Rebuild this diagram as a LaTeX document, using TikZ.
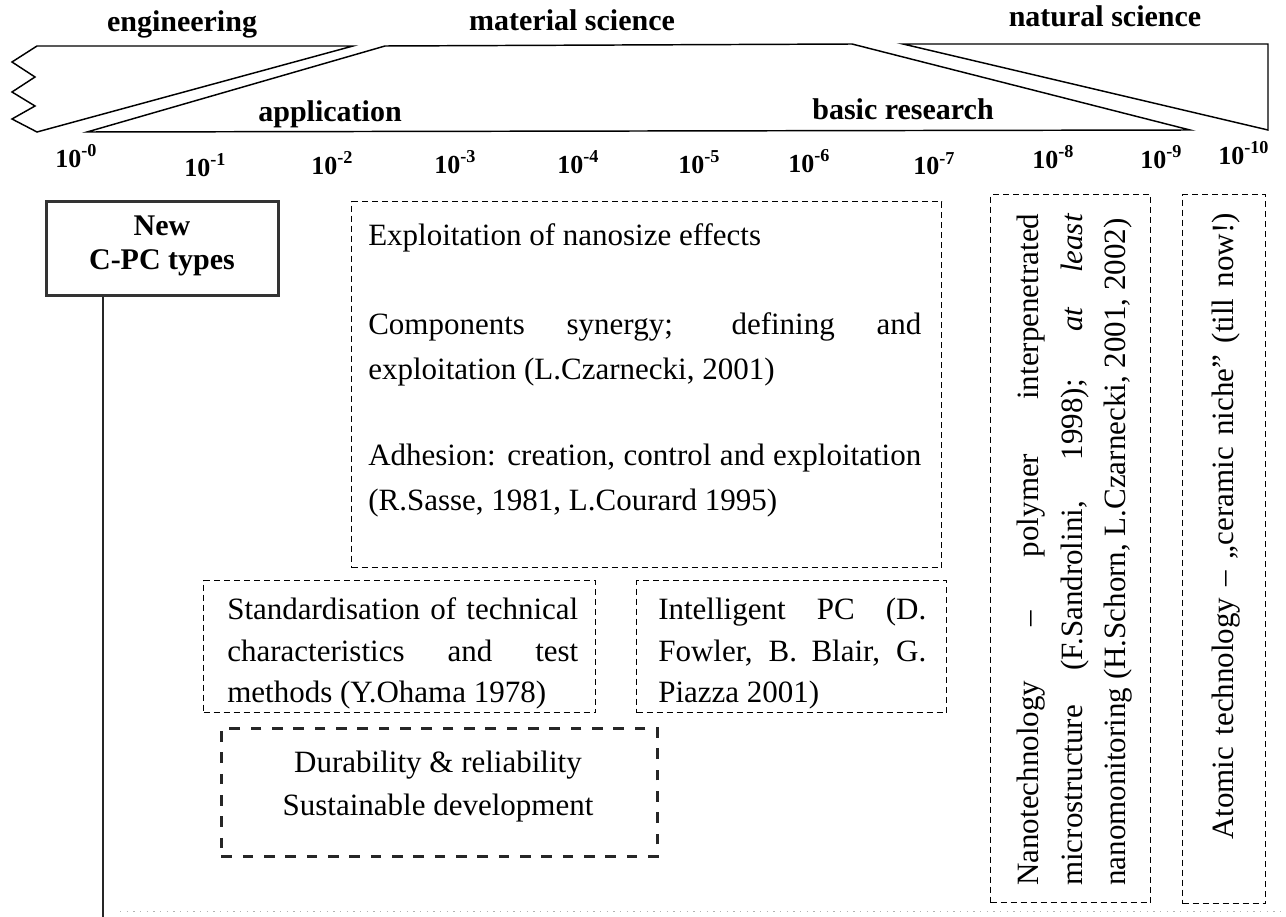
\documentclass[tikz,border=0pt]{standalone}
\usepackage{fontspec}
\setmainfont{Liberation Serif}
\begin{document}
\begin{tikzpicture}[x=0.75pt,y=-0.75pt,
  band/.style={draw=black, line width=1.1pt, line join=miter},
  lab/.style={font=\fontsize{22.5}{27}\selectfont\bfseries, anchor=base, inner sep=0pt},
  expo/.style={font=\fontsize{19.5}{24}\selectfont\bfseries, anchor=base west, inner sep=0pt},
  body/.style={font=\fontsize{23.25}{33}\selectfont, anchor=base west, inner sep=0pt},
  bodyc/.style={font=\fontsize{23.25}{33}\selectfont, anchor=base, inner sep=0pt},
  dbox/.style={draw=black, line width=0.9pt, dash pattern=on 4.5pt off 3pt, anchor=north west, inner sep=0pt},
  tdbox/.style={draw=black!85, line width=2.2pt, dash pattern=on 8pt off 8pt, anchor=north west, inner sep=0pt},
  sbox/.style={draw=black!80, line width=2.2pt, anchor=north west, inner sep=0pt},
  conn/.style={draw=black!85, line width=2.2pt}
]
\useasboundingbox (0,0) rectangle (1286,917);

% top band
\draw[band] (353,46) -- (37,46) -- (12,62) -- (35,77) -- (12,92) -- (35,106) -- (12,119) -- (37,132) -- cycle;
\draw[band] (87,132) -- (385,46) -- (852,44) -- (1190,130) -- cycle;
\draw[band] (903,44) -- (1268,44) -- (1268,130) -- cycle;

\node[lab] (eng) at (182,32) {engineering};
\node[lab] (mat) at (572,31) {material science};
\node[lab] (nat) at (1105,27) {natural science};
\node[lab] (app) at (330,122) {application};
\node[lab] (bas) at (903,120) {basic research};

% scale
\node[expo] (e0) at (55,167) {10\textsuperscript{-0}};
\node[expo] (e1) at (184,176) {10\textsuperscript{-1}};
\node[expo] (e2) at (311,174) {10\textsuperscript{-2}};
\node[expo] (e3) at (434,173) {10\textsuperscript{-3}};
\node[expo] (e4) at (557,173) {10\textsuperscript{-4}};
\node[expo] (e5) at (678,173) {10\textsuperscript{-5}};
\node[expo] (e6) at (788,172) {10\textsuperscript{-6}};
\node[expo] (e7) at (913,175) {10\textsuperscript{-7}};
\node[expo] (e8) at (1032,168) {10\textsuperscript{-8}};
\node[expo] (e9) at (1140,168) {10\textsuperscript{-9}};
\node[expo] (e10) at (1218,164) {10\textsuperscript{-10}};

% New C-PC types
\node[sbox, minimum width=174pt, minimum height=70.5pt] (newbox) at (45,200) {};
\node[lab] (new1) at (162,235) {New};
\node[lab] (new2) at (162,269) {C-PC types};
\coordinate (lineend) at (103,917);
\draw[conn] (newbox.south -| lineend) -- (lineend);

% big box
\node[dbox, minimum width=442.5pt, minimum height=274.5pt] (big) at (351,201) {};
\node[body] (b1) at (368,245) {Exploitation of nanosize effects};
\node[body] (b2) at (368,334) {\makebox[414.75pt][s]{Components synergy; defining and}};
\node[body] (b3) at (368,379) {exploitation (L.Czarnecki, 2001)};
\node[body] (b4) at (368,465) {\makebox[414.75pt][s]{Adhesion: creation, control and exploitation}};
\node[body] (b5) at (368,510) {(R.Sasse, 1981, L.Courard 1995)};

% standardisation
\node[dbox, minimum width=294pt, minimum height=99pt] (std) at (203,580) {};
\node[body] (s1) at (227,619) {\makebox[263.25pt][s]{Standardisation of technical}};
\node[body] (s2) at (227,661) {\makebox[263.25pt][s]{characteristics and test}};
\node[body] (s3) at (227,702) {methods (Y.Ohama 1978)};

% intelligent
\node[dbox, minimum width=232.5pt, minimum height=99pt] (intl) at (636,580) {};
\node[body] (i1) at (658,619) {\makebox[201pt][s]{Intelligent PC (D.}};
\node[body] (i2) at (658,661) {\makebox[201pt][s]{Fowler, B. Blair, G.}};
\node[body] (i3) at (658,702) {Piazza 2001)};

% durability
\node[tdbox, minimum width=327pt, minimum height=96pt] (dur) at (220,727) {};
\node[bodyc] (d1) at (438,772) {Durability \& reliability};
\node[bodyc] (d2) at (438,815) {Sustainable development};

% nano
\node[dbox, minimum width=120pt, minimum height=531pt] (nano) at (990,194) {};
\node[body, rotate=90] (n1) at (1038,886) {\makebox[504pt][s]{Nanotechnology – polymer interpenetrated}};
\node[body, rotate=90] (n2) at (1082,886) {\makebox[504pt][s]{microstructure (F.Sandrolini, 1998); \textit{at} \textit{least}}};
\node[body, rotate=90] (n3) at (1125,886) {nanomonitoring (H.Schorn, L.Czarnecki, 2001, 2002)};

% atomic
\node[dbox, minimum width=62.25pt, minimum height=531.75pt] (atom) at (1182,194) {};
\node[body, rotate=90] (a1) at (1233,840) {\makebox[470pt][s]{Atomic technology – „ceramic niche” (till now!)}};

% scan artefact
\draw[black!30, line width=0.6pt, dash pattern=on 1pt off 4pt] (120,911) -- (1286,911);
\end{tikzpicture}
\end{document}
